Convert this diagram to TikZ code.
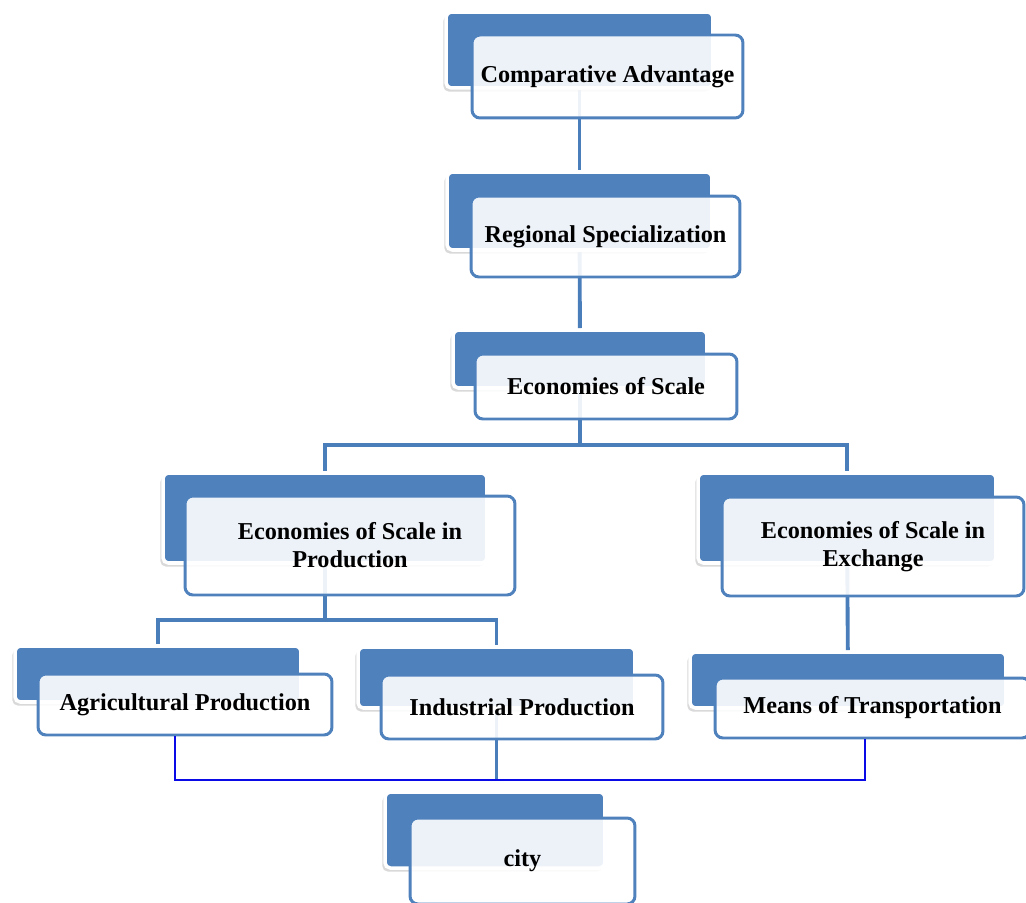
\documentclass[tikz,border=0pt]{standalone}
\usepackage{fontspec}
\setmainfont{Liberation Serif}
\usetikzlibrary{shadows}
\definecolor{tierblue}{HTML}{4F81BD}
\definecolor{branchblue}{HTML}{4A7EBB}
\definecolor{crossblue}{HTML}{0A0AE6}
\pgfdeclarelayer{bg}
\pgfsetlayers{bg,main}
\tikzset{
	tierback/.style={draw=white, line width=2pt, fill=tierblue, rounded corners=3pt, inner sep=0pt,
		drop shadow={shadow xshift=-1.5pt, shadow yshift=-2pt, opacity=0.3}},
	tierfront/.style={draw=tierblue, line width=1.7pt, fill=white, fill opacity=0.9, text opacity=1,
		rounded corners=4.5pt, inner sep=0pt, align=center, font=\fontsize{13.8}{16}\selectfont\bfseries},
	branch/.style={draw=branchblue, line width=2.2pt},
	crosslink/.style={draw=crossblue, line width=1.6pt}
}

\begin{document}
\begin{tikzpicture}[x=0.02cm, y=-0.02cm]
			%%%%% START %%%%%
			\clip (0, 0) rectangle (1026, 902);
			
			% top chain
			\node[tierback, minimum width=5.34cm, minimum height=1.52cm] (cmpB) at (579.5, 50) {};
			\node[tierfront, minimum width=5.42cm, minimum height=1.66cm] (cmpF) at (607.5, 76.5) {Comparative Advantage};
			
			\node[tierback, minimum width=5.30cm, minimum height=1.56cm] (regB) at (579.5, 211) {};
			\node[tierfront, minimum width=5.38cm, minimum height=1.62cm] (regF) at (605.5, 236.5) {Regional Specialization};
			
			\node[tierback, minimum width=5.08cm, minimum height=1.16cm] (ecoB) at (580, 359) {};
			\node[tierfront, minimum width=5.24cm, minimum height=1.30cm] (ecoF) at (606, 386.5) {Economies of Scale};
			
			% second level
			\node[tierback, minimum width=6.48cm, minimum height=1.80cm] (prodB) at (325, 518) {};
			\node[tierfront, minimum width=6.60cm, minimum height=1.98cm] (prodF) at (350, 545.5) {Economies of Scale in\\Production};
			
			\node[tierback, minimum width=5.96cm, minimum height=1.80cm] (exchB) at (847, 518) {};
			\node[tierfront, minimum width=6.04cm, minimum height=1.98cm] (exchF) at (873, 546.5) {Economies of Scale in\\Exchange};
			
			% third level
			\node[tierback, minimum width=5.72cm, minimum height=1.12cm] (agriB) at (158, 674) {};
			\node[tierfront, minimum width=5.88cm, minimum height=1.22cm] (agriF) at (185, 704.5) {Agricultural Production};
			
			\node[tierback, minimum width=5.54cm, minimum height=1.22cm] (indB) at (496.5, 677.5) {};
			\node[tierfront, minimum width=5.64cm, minimum height=1.28cm] (indF) at (522, 707) {Industrial Production};
			
			\node[tierback, minimum width=6.32cm, minimum height=1.12cm] (meansB) at (848, 680) {};
			\node[tierfront, minimum width=6.30cm, minimum height=1.20cm] (meansF) at (872.5, 708) {Means of Transportation};
			
			% bottom
			\node[tierback, minimum width=4.40cm, minimum height=1.52cm] (cityB) at (495, 830) {};
			\node[tierfront, minimum width=4.50cm, minimum height=1.72cm] (cityF) at (522.5, 861) {city};
			
			% connectors
			\coordinate (forkA) at (580, 445);
			\coordinate (forkB) at (325, 620);
			\coordinate (linkL) at (175, 780);
			\coordinate (linkR) at (865, 780);
			\begin{pgfonlayer}{bg}
				\draw[branch] (cmpB) -- (regB);
				\draw[branch] (regB) -- (ecoB);
				\draw[branch] (ecoB) -- (forkA) -| (prodB);
				\draw[branch] (forkA) -| (exchB);
				\draw[branch] (prodB) -- (forkB) -| (agriB);
				\draw[branch] (forkB) -| (indB);
				\draw[branch] (exchB) -- (meansB);
				\draw[branch] (indB) -- (indB |- linkL);
			\end{pgfonlayer}
			\draw[crosslink] (agriF.south -| linkL) -- (linkL) -- (linkR) -- (meansF.south -| linkR);
			
			%%%%% END %%%%%
\end{tikzpicture}
\end{document}
